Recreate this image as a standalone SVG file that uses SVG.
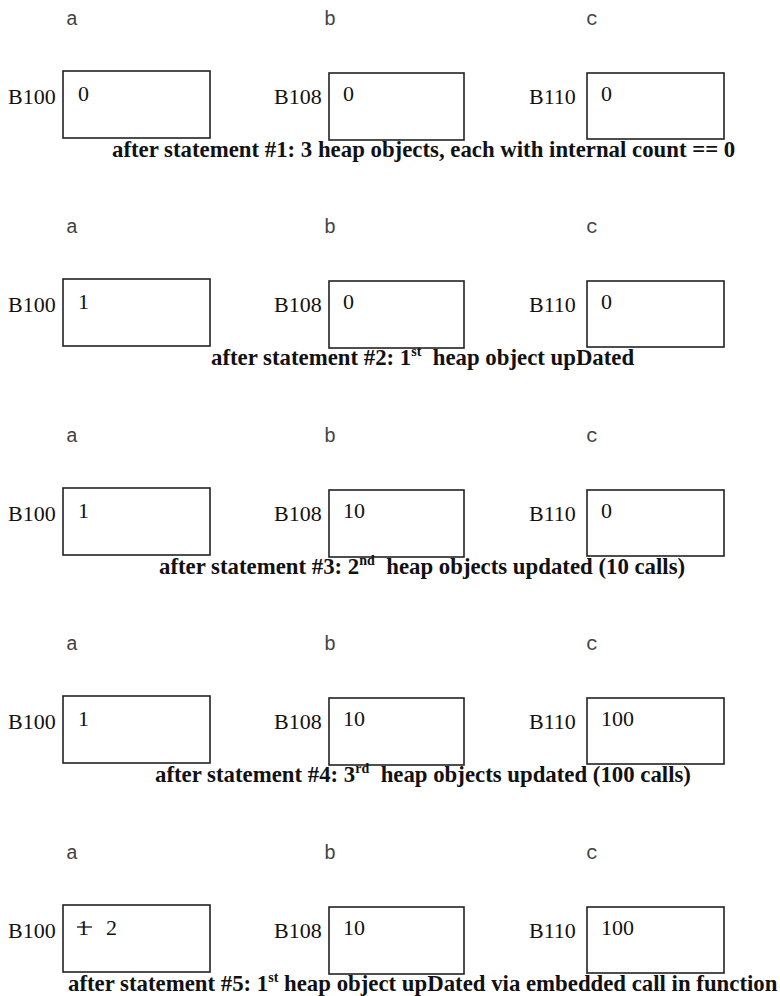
<svg xmlns="http://www.w3.org/2000/svg" width="780" height="996" viewBox="0 0 780 996">
<style>
.var{font-family:"Liberation Mono","Courier New",monospace;font-size:20px;fill:#444}
.addr{font-family:"Liberation Serif","Times New Roman",serif;font-size:22px;fill:#111}
.val{font-family:"Liberation Serif","Times New Roman",serif;font-size:22px;fill:#111}
.cap{font-family:"Liberation Serif","Times New Roman",serif;font-size:22.8px;font-weight:bold;fill:#111;white-space:pre}
.sup{font-size:14px}
.box{fill:#fff;stroke:#222;stroke-width:1.6}
</style>
<rect width="780" height="996" fill="#fff"/>
<g id="connectors"/>

<g id="panel1">
  <text class="var" x="66" y="25">a</text>
  <text class="var" x="324" y="25">b</text>
  <text class="var" x="586" y="25">c</text>
  <g id="p1-a"><text class="addr" x="8" y="104">B100</text><rect class="box" x="63" y="71" width="147" height="67"/><text class="val" x="78" y="101">0</text></g>
  <g id="p1-b"><text class="addr" x="274" y="104">B108</text><rect class="box" x="329" y="73" width="135" height="67"/><text class="val" x="343" y="101">0</text></g>
  <g id="p1-c"><text class="addr" x="529" y="104">B110</text><rect class="box" x="587" y="73" width="137" height="66"/><text class="val" x="601" y="101">0</text></g>
  <text class="cap" x="112" y="157">after statement #1: 3 heap objects, each with internal count == 0</text>
</g>

<g id="panel2" transform="translate(0,208)">
  <text class="var" x="66" y="25">a</text>
  <text class="var" x="324" y="25">b</text>
  <text class="var" x="586" y="25">c</text>
  <g id="p2-a"><text class="addr" x="8" y="104">B100</text><rect class="box" x="63" y="71" width="147" height="67"/><text class="val" x="78" y="101">1</text></g>
  <g id="p2-b"><text class="addr" x="274" y="104">B108</text><rect class="box" x="329" y="73" width="135" height="67"/><text class="val" x="343" y="101">0</text></g>
  <g id="p2-c"><text class="addr" x="529" y="104">B110</text><rect class="box" x="587" y="73" width="137" height="66"/><text class="val" x="601" y="101">0</text></g>
  <text class="cap" x="211" y="157">after statement #2: 1<tspan class="sup" dy="-9">st</tspan><tspan dy="9">  heap object upDated</tspan></text>
</g>

<g id="panel3" transform="translate(0,417)">
  <text class="var" x="66" y="25">a</text>
  <text class="var" x="324" y="25">b</text>
  <text class="var" x="586" y="25">c</text>
  <g id="p3-a"><text class="addr" x="8" y="104">B100</text><rect class="box" x="63" y="71" width="147" height="67"/><text class="val" x="78" y="101">1</text></g>
  <g id="p3-b"><text class="addr" x="274" y="104">B108</text><rect class="box" x="329" y="73" width="135" height="67"/><text class="val" x="343" y="101">10</text></g>
  <g id="p3-c"><text class="addr" x="529" y="104">B110</text><rect class="box" x="587" y="73" width="137" height="66"/><text class="val" x="601" y="101">0</text></g>
  <text class="cap" x="159" y="157">after statement #3: 2<tspan class="sup" dy="-9">nd</tspan><tspan dy="9">  heap objects updated (10 calls)</tspan></text>
</g>

<g id="panel4" transform="translate(0,625)">
  <text class="var" x="66" y="25">a</text>
  <text class="var" x="324" y="25">b</text>
  <text class="var" x="586" y="25">c</text>
  <g id="p4-a"><text class="addr" x="8" y="104">B100</text><rect class="box" x="63" y="71" width="147" height="67"/><text class="val" x="78" y="101">1</text></g>
  <g id="p4-b"><text class="addr" x="274" y="104">B108</text><rect class="box" x="329" y="73" width="135" height="67"/><text class="val" x="343" y="101">10</text></g>
  <g id="p4-c"><text class="addr" x="529" y="104">B110</text><rect class="box" x="587" y="73" width="137" height="66"/><text class="val" x="601" y="101">100</text></g>
  <text class="cap" x="155" y="157">after statement #4: 3<tspan class="sup" dy="-9">rd</tspan><tspan dy="9">  heap objects updated (100 calls)</tspan></text>
</g>

<g id="panel5" transform="translate(0,834)">
  <text class="var" x="66" y="25">a</text>
  <text class="var" x="324" y="25">b</text>
  <text class="var" x="586" y="25">c</text>
  <g id="p5-a"><text class="addr" x="8" y="104">B100</text><rect class="box" x="63" y="71" width="147" height="67"/><text class="val" x="78" y="101">1</text><line x1="77" y1="93" x2="92" y2="93" stroke="#111" stroke-width="1.3"/><text class="val" x="106" y="101">2</text></g>
  <g id="p5-b"><text class="addr" x="274" y="104">B108</text><rect class="box" x="329" y="73" width="135" height="67"/><text class="val" x="343" y="101">10</text></g>
  <g id="p5-c"><text class="addr" x="529" y="104">B110</text><rect class="box" x="587" y="73" width="137" height="66"/><text class="val" x="601" y="101">100</text></g>
  <text class="cap" x="68" y="157">after statement #5: 1<tspan class="sup" dy="-9">st</tspan><tspan dy="9"> heap object upDated via embedded call in function</tspan></text>
</g>
</svg>
